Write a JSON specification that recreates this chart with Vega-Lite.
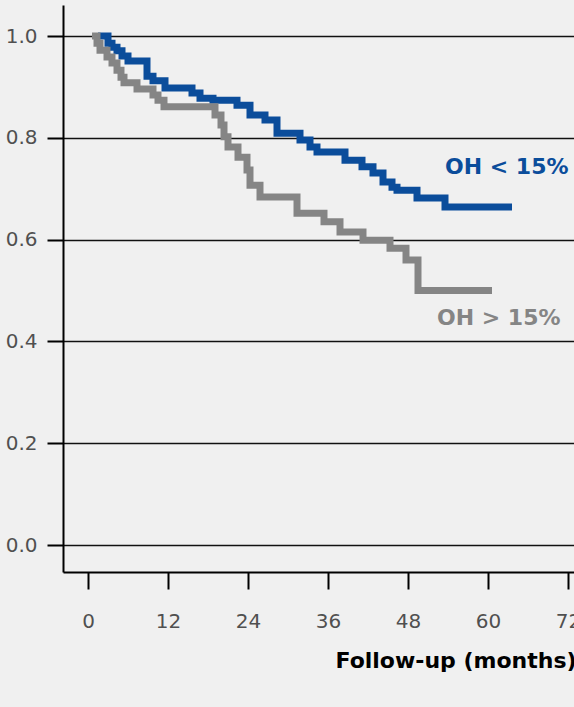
{
  "$schema": "https://vega.github.io/schema/vega-lite/v6.json",
  "width": 511,
  "height": 567,
  "autosize": {"type": "none"},
  "padding": {"left": 63, "top": 5, "right": 0, "bottom": 135},
  "background": "#f0f0f0",
  "config": {"view": {"stroke": null}, "font": "DejaVu Sans"},
  "datasets": {
    "curves": [
      {"group": "OH < 15%", "month": 1.5, "survival": 1.0},
      {"group": "OH < 15%", "month": 3.0, "survival": 0.986},
      {"group": "OH < 15%", "month": 3.6, "survival": 0.978},
      {"group": "OH < 15%", "month": 4.35, "survival": 0.971},
      {"group": "OH < 15%", "month": 5.1, "survival": 0.961},
      {"group": "OH < 15%", "month": 6.0, "survival": 0.951},
      {"group": "OH < 15%", "month": 8.85, "survival": 0.921},
      {"group": "OH < 15%", "month": 9.75, "survival": 0.912},
      {"group": "OH < 15%", "month": 11.55, "survival": 0.898},
      {"group": "OH < 15%", "month": 15.6, "survival": 0.888},
      {"group": "OH < 15%", "month": 16.8, "survival": 0.878},
      {"group": "OH < 15%", "month": 18.75, "survival": 0.874},
      {"group": "OH < 15%", "month": 22.35, "survival": 0.864},
      {"group": "OH < 15%", "month": 24.3, "survival": 0.845},
      {"group": "OH < 15%", "month": 26.55, "survival": 0.835},
      {"group": "OH < 15%", "month": 28.35, "survival": 0.809},
      {"group": "OH < 15%", "month": 31.8, "survival": 0.796},
      {"group": "OH < 15%", "month": 33.3, "survival": 0.782},
      {"group": "OH < 15%", "month": 34.35, "survival": 0.772},
      {"group": "OH < 15%", "month": 38.55, "survival": 0.756},
      {"group": "OH < 15%", "month": 41.1, "survival": 0.743},
      {"group": "OH < 15%", "month": 42.75, "survival": 0.731},
      {"group": "OH < 15%", "month": 44.25, "survival": 0.713},
      {"group": "OH < 15%", "month": 45.6, "survival": 0.703},
      {"group": "OH < 15%", "month": 46.35, "survival": 0.697},
      {"group": "OH < 15%", "month": 49.35, "survival": 0.682},
      {"group": "OH < 15%", "month": 53.55, "survival": 0.664},
      {"group": "OH < 15%", "month": 63.6, "survival": 0.664},
      {"group": "OH > 15%", "month": 0.6, "survival": 1.0},
      {"group": "OH > 15%", "month": 1.35, "survival": 0.986},
      {"group": "OH > 15%", "month": 1.8, "survival": 0.972},
      {"group": "OH > 15%", "month": 2.85, "survival": 0.959},
      {"group": "OH > 15%", "month": 3.6, "survival": 0.947},
      {"group": "OH > 15%", "month": 4.35, "survival": 0.933},
      {"group": "OH > 15%", "month": 4.95, "survival": 0.919},
      {"group": "OH > 15%", "month": 5.4, "survival": 0.908},
      {"group": "OH > 15%", "month": 7.35, "survival": 0.896},
      {"group": "OH > 15%", "month": 9.75, "survival": 0.884},
      {"group": "OH > 15%", "month": 10.5, "survival": 0.874},
      {"group": "OH > 15%", "month": 11.4, "survival": 0.861},
      {"group": "OH > 15%", "month": 19.05, "survival": 0.845},
      {"group": "OH > 15%", "month": 19.95, "survival": 0.825},
      {"group": "OH > 15%", "month": 20.4, "survival": 0.802},
      {"group": "OH > 15%", "month": 21.0, "survival": 0.782},
      {"group": "OH > 15%", "month": 22.5, "survival": 0.762},
      {"group": "OH > 15%", "month": 23.85, "survival": 0.737},
      {"group": "OH > 15%", "month": 24.3, "survival": 0.707},
      {"group": "OH > 15%", "month": 25.8, "survival": 0.684},
      {"group": "OH > 15%", "month": 31.35, "survival": 0.652},
      {"group": "OH > 15%", "month": 35.4, "survival": 0.635},
      {"group": "OH > 15%", "month": 37.8, "survival": 0.615},
      {"group": "OH > 15%", "month": 41.25, "survival": 0.599},
      {"group": "OH > 15%", "month": 45.3, "survival": 0.583},
      {"group": "OH > 15%", "month": 47.7, "survival": 0.56},
      {"group": "OH > 15%", "month": 49.5, "survival": 0.5},
      {"group": "OH > 15%", "month": 60.6, "survival": 0.5}
    ],
    "labels": [
      {"group": "OH < 15%", "month": 53.55, "survival": 0.743},
      {"group": "OH > 15%", "month": 52.35, "survival": 0.446}
    ]
  },
  "layer": [
    {
      "data": {"name": "curves"},
      "mark": {"type": "line", "interpolate": "step-after", "strokeWidth": 7, "strokeCap": "butt", "strokeJoin": "miter"},
      "encoding": {
        "x": {
          "field": "month",
          "type": "quantitative",
          "scale": {"domain": [-3.75, 72.9], "nice": false, "zero": false},
          "axis": {
            "values": [0, 12, 24, 36, 48, 60, 72],
            "title": "Follow-up (months)",
            "grid": false,
            "domainColor": "#000000",
            "domainWidth": 2,
            "tickColor": "#000000",
            "tickWidth": 2,
            "tickSize": 17,
            "labelFontSize": 20,
            "labelColor": "#505050",
            "labelPadding": 32,
            "labelBaseline": "middle",
            "labelFlush": false,
            "labelOverlap": false,
            "titleFontSize": 22,
            "titleFontWeight": "bold",
            "titleColor": "#000000",
            "titleX": 272,
            "titleY": 88,
            "titleAlign": "left",
            "titleBaseline": "middle",
            "titleAnchor": null
          }
        },
        "y": {
          "field": "survival",
          "type": "quantitative",
          "scale": {"domain": [-0.053, 1.061], "nice": false, "zero": false},
          "axis": {
            "values": [0, 0.2, 0.4, 0.6, 0.8, 1.0],
            "format": ".1f",
            "title": null,
            "grid": true,
            "gridColor": "#111111",
            "gridWidth": 1.5,
            "domainColor": "#000000",
            "domainWidth": 2,
            "tickColor": "#000000",
            "tickWidth": 2,
            "tickSize": 16,
            "labelFontSize": 20,
            "labelColor": "#505050",
            "labelPadding": 10
          }
        },
        "color": {
          "field": "group",
          "type": "nominal",
          "scale": {"domain": ["OH < 15%", "OH > 15%"], "range": ["#0b4d9b", "#858585"]},
          "legend": null
        }
      }
    },
    {
      "data": {"name": "labels"},
      "mark": {"type": "text", "fontWeight": "bold", "fontSize": 22, "align": "left", "baseline": "middle"},
      "encoding": {
        "x": {"field": "month", "type": "quantitative"},
        "y": {"field": "survival", "type": "quantitative"},
        "text": {"field": "group"},
        "color": {
          "field": "group",
          "type": "nominal",
          "scale": {"domain": ["OH < 15%", "OH > 15%"], "range": ["#0b4d9b", "#858585"]},
          "legend": null
        }
      }
    }
  ]
}
